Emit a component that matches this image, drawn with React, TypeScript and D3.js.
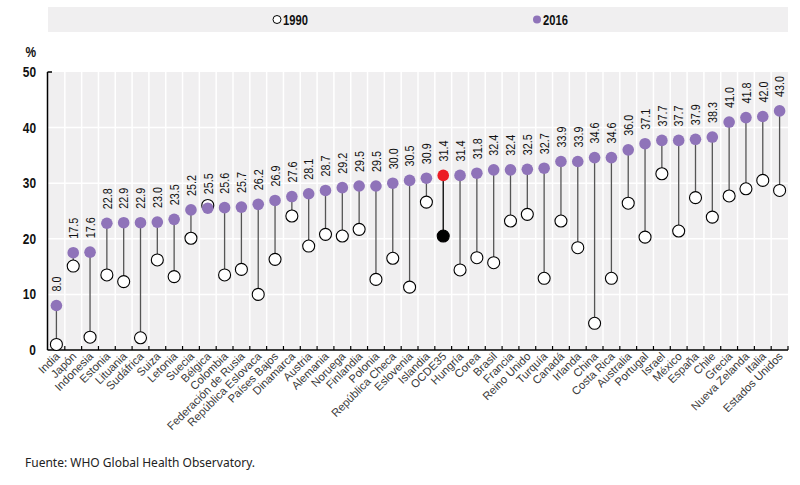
import React from "react";
import * as d3 from "d3";

// countries, sorted by 2016 value
const countries = [
  "India", "Japón", "Indonesia", "Estonia", "Lituania", "Sudáfrica", "Suiza", "Letonia",
  "Suecia", "Bélgica", "Colombia", "Federación de Rusia", "República Eslovaca", "Países Bajos",
  "Dinamarca", "Austria", "Alemania", "Noruega", "Finlandia", "Polonia", "República Checa",
  "Eslovenia", "Islandia", "OCDE35", "Hungría", "Corea", "Brasil", "Francia", "Reino Unido",
  "Turquía", "Canadá", "Irlanda", "China", "Costa Rica", "Australia", "Portugal", "Israel",
  "México", "España", "Chile", "Grecia", "Nueva Zelanda", "Italia", "Estados Unidos",
];
const values2016 = [
  8.0, 17.5, 17.6, 22.8, 22.9, 22.9, 23.0, 23.5, 25.2, 25.5, 25.6, 25.7, 26.2, 26.9,
  27.6, 28.1, 28.7, 29.2, 29.5, 29.5, 30.0, 30.5, 30.9, 31.4, 31.4, 31.8, 32.4, 32.4,
  32.5, 32.7, 33.9, 33.9, 34.6, 34.6, 36.0, 37.1, 37.7, 37.7, 37.9, 38.3, 41.0, 41.8,
  42.0, 43.0,
];
// (not labelled)
const values1990 = [
  1.0, 15.1, 2.3, 13.5, 12.3, 2.2, 16.2, 13.2, 20.1, 26.0, 13.5, 14.5, 10.0, 16.3,
  24.1, 18.7, 20.8, 20.5, 21.7, 12.7, 16.5, 11.3, 26.6, 20.5, 14.4, 16.6, 15.7, 23.2,
  24.4, 12.9, 23.2, 18.4, 4.8, 12.9, 26.4, 20.3, 31.7, 21.4, 27.4, 23.9, 27.7, 29.0,
  30.5, 28.7,
];
const yTicks = [0, 10, 20, 30, 40, 50];
const highlight = "OCDE35";

const W = 800, H = 485;
const left = 48, right = 788, top = 72, bottom = 350;
const purple = "#8f73b9";
const red = "#ec1c24";
const bg = "#f0eff0";
const sans = "'Liberation Sans', Arial, sans-serif";
const squeeze = 0.8; // no narrow font installed, squash horizontally

export default function App() {
  const x = d3.scaleBand<string>().domain(countries).range([left, right]).padding(0);
  const y = d3.scaleLinear().domain([0, 50]).range([bottom, top]);
  const bw = x.bandwidth();
  const cx = (c: string) => (x(c) as number) + bw / 2;

  return (
    <svg width={W} height={H} style={{ position: "absolute", left: 0, top: 0 }}>
      {/* legend */}
      <rect x={left} y={7} width={right - left} height={25} fill={bg} />
      <circle cx={277} cy={19.5} r={4} fill="#fff" stroke="#000" strokeWidth={1} />
      <text transform={`translate(283,24.5) scale(${squeeze},1)`} fontFamily={sans} fontSize={14}
        fontWeight="bold" fill="#111">1990</text>
      <circle cx={537} cy={19.5} r={4} fill={purple} />
      <text transform={`translate(543,24.5) scale(${squeeze},1)`} fontFamily={sans} fontSize={14}
        fontWeight="bold" fill="#111">2016</text>

      {/* plot background */}
      <rect x={left} y={top} width={right - left} height={bottom - top} fill={bg} />
      {countries.slice(1).map((c) => (
        <line key={"v" + c} x1={x(c)} x2={x(c)} y1={top} y2={bottom} stroke="#fff" strokeWidth={1.5} />
      ))}
      {yTicks.filter((t) => t > 0 && t < 50).map((t) => (
        <line key={"h" + t} x1={left} x2={right} y1={y(t)} y2={y(t)} stroke="#fff" strokeWidth={1.5} />
      ))}

      {/* axes */}
      <line x1={left - 0.5} x2={left - 0.5} y1={top} y2={bottom} stroke="#000" strokeWidth={1.5} />
      <line x1={left - 0.5} x2={left + 4} y1={top} y2={top} stroke="#000" strokeWidth={1.5} />
      <line x1={left - 0.5} x2={right} y1={bottom} y2={bottom} stroke="#000" strokeWidth={1.5} />
      {countries.slice(1).concat([""]).map((c, i) => {
        const tx = c ? (x(c) as number) : right;
        return <line key={"t" + i} x1={tx} x2={tx} y1={bottom} y2={bottom - 4} stroke="#000" strokeWidth={1.2} />;
      })}
      {yTicks.map((t) => (
        <text key={"y" + t} transform={`translate(36,${y(t)}) scale(0.85,1)`} dy="0.35em" textAnchor="end"
          fontFamily={sans} fontSize={14} fontWeight="bold" fill="#111">{t}</text>
      ))}
      <text transform="translate(36,57) scale(0.85,1)" textAnchor="end" fontFamily={sans} fontSize={14}
        fontWeight="bold" fill="#111">%</text>

      {/* stems */}
      {countries.map((c, i) => (
        <line key={"s" + c} x1={cx(c)} x2={cx(c)} y1={y(values1990[i])} y2={y(values2016[i])}
          stroke={c === highlight ? "#000" : "#555"} strokeWidth={1.3} />
      ))}
      {/* 1990 */}
      {countries.map((c, i) => (
        <circle key={"a" + c} cx={cx(c)} cy={y(values1990[i])} r={6}
          fill={c === highlight ? "#000" : "#fff"} stroke="#000" strokeWidth={1.1} />
      ))}
      {/* 2016 */}
      {countries.map((c, i) => (
        <circle key={"b" + c} cx={cx(c)} cy={y(values2016[i])} r={5.8}
          fill={c === highlight ? red : purple} />
      ))}
      {countries.map((c, i) => {
        const px = cx(c), py = y(values2016[i]) - 14;
        return (
          <text key={"l" + c} transform={`translate(${px},${py}) rotate(-90) scale(${squeeze},1)`} dy="0.35em"
            fontFamily={sans} fontSize={13.5} fill="#111">{values2016[i].toFixed(1)}</text>
        );
      })}

      {/* category labels */}
      {countries.map((c) => {
        const px = cx(c) + 4, py = bottom + 7;
        return (
          <text key={"x" + c} transform={`translate(${px},${py}) rotate(-45)`} textAnchor="end"
            fontFamily={sans} fontSize={11.3} fill="#3a3a3a">{c}</text>
        );
      })}

      <text x={25} y={467} fontFamily="'Noto Sans', sans-serif" fontSize={12} fill="#222">
        Fuente: WHO Global Health Observatory.
      </text>
    </svg>
  );
}
